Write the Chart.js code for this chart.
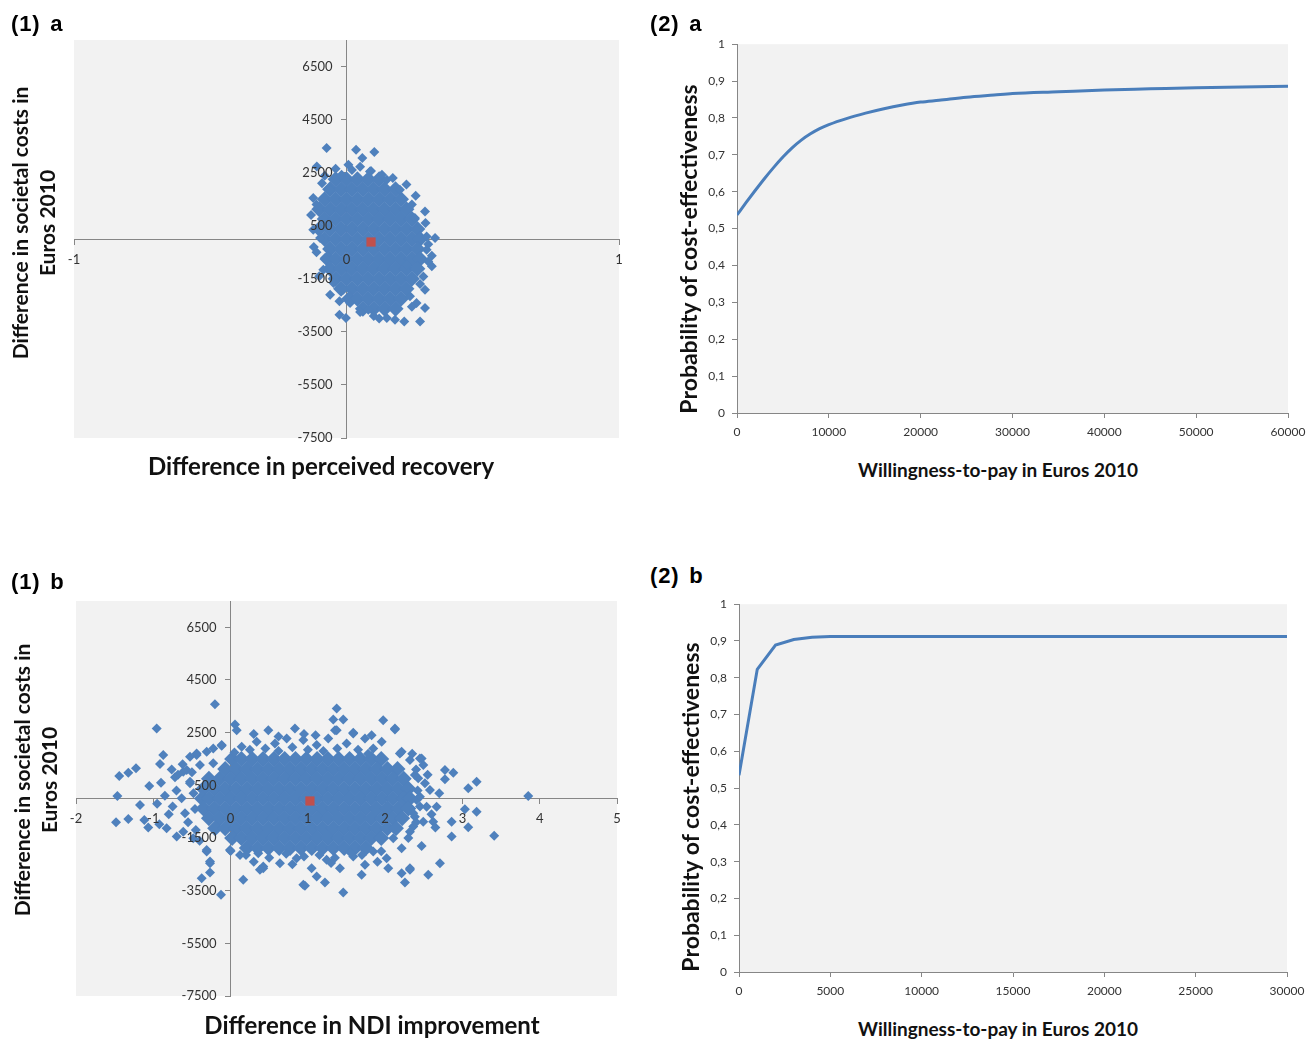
<!DOCTYPE html>
<html>
<head>
<meta charset="utf-8">
<script src="https://cdn.jsdelivr.net/npm/chart.js@4.4.0/dist/chart.umd.min.js"></script>
<style>
body { margin: 0; background: #fff; width: 1313px; height: 1040px; position: relative; overflow: hidden; font-family: Lato, sans-serif; }
canvas { position: absolute; }
.panel { position: absolute; font: bold 22px 'Liberation Sans', Arimo, Arial, sans-serif; letter-spacing: 0.8px; word-spacing: 3px; line-height: 22px; color: #000; }
.title { position: absolute; font-weight: bold; color: #111; white-space: nowrap; text-align: center; transform: translate(-50%, -50%); }
.rot { transform: translate(-50%, -50%) rotate(-90deg); }
</style>
</head>
<body>
<canvas id="recovery" width="620" height="430" style="left:30px;top:25px"></canvas>
<canvas id="ndi" width="620" height="430" style="left:30px;top:585px"></canvas>
<canvas id="acceptA" width="623" height="420" style="left:690px;top:30px"></canvas>
<canvas id="acceptB" width="623" height="420" style="left:690px;top:590px"></canvas>

<div class="panel" style="left:11px;top:13px">(1) a</div>
<div class="panel" style="left:650px;top:13px">(2) a</div>
<div class="panel" style="left:11px;top:571px">(1) b</div>
<div class="panel" style="left:650px;top:565px">(2) b</div>

<div class="title rot" style="left:33px;top:223px;font-size:21px;line-height:27px">Difference in societal costs in<br>Euros 2010</div>
<div class="title" style="left:321px;top:465px;font-size:24px">Difference in perceived recovery</div>
<div class="title rot" style="left:35px;top:780px;font-size:21px;line-height:27px">Difference in societal costs in<br>Euros 2010</div>
<div class="title" style="left:372px;top:1024px;font-size:24px">Difference in NDI improvement</div>
<div class="title rot" style="left:688px;top:249px;font-size:23px">Probability of cost-effectiveness</div>
<div class="title" style="left:998px;top:469px;font-size:19px">Willingness-to-pay in Euros 2010</div>
<div class="title rot" style="left:690px;top:807px;font-size:23px">Probability of cost-effectiveness</div>
<div class="title" style="left:998px;top:1028px;font-size:19px">Willingness-to-pay in Euros 2010</div>

<script>
// tick values
const costTicks = [-7500, -5500, -3500, -1500, 500, 2500, 4500, 6500];
const recoveryTicks = [-1, 0, 1];
const ndiTicks = [-2, -1, 0, 1, 2, 3, 4, 5];
const probTicks = [0, 0.1, 0.2, 0.3, 0.4, 0.5, 0.6, 0.7, 0.8, 0.9, 1];
const probLabels = ['0', '0,1', '0,2', '0,3', '0,4', '0,5', '0,6', '0,7', '0,8', '0,9', '1'];
const wtpTicksA = [0, 10000, 20000, 30000, 40000, 50000, 60000];
const wtpTicksB = [0, 5000, 10000, 15000, 20000, 25000, 30000];

// (1) a  bootstrapped cost / recovery pairs, dense part read row by row [cost, [recovery...]]
const recoveryCore = [
    [2250, [-0.04, 0.00, 0.04, 0.08, 0.12]],
    [1875, [-0.06, -0.02, 0.02, 0.06, 0.10, 0.14, 0.18]],
    [1500, [-0.08, -0.04, 0.00, 0.04, 0.08, 0.12, 0.16, 0.20]],
    [1125, [-0.10, -0.06, -0.02, 0.02, 0.06, 0.10, 0.14, 0.18, 0.22]],
    [750, [-0.08, -0.04, 0.00, 0.04, 0.08, 0.12, 0.16, 0.20, 0.24]],
    [375, [-0.10, -0.06, -0.02, 0.02, 0.06, 0.10, 0.14, 0.18, 0.22, 0.26]],
    [0, [-0.08, -0.04, 0.00, 0.04, 0.08, 0.12, 0.16, 0.20, 0.24, 0.27]],
    [-375, [-0.06, -0.02, 0.02, 0.06, 0.10, 0.14, 0.18, 0.22, 0.26]],
    [-750, [-0.07, -0.04, 0.00, 0.04, 0.08, 0.12, 0.16, 0.20, 0.24, 0.27]],
    [-1125, [-0.06, -0.02, 0.02, 0.06, 0.10, 0.14, 0.18, 0.22, 0.26]],
    [-1500, [-0.04, 0.00, 0.04, 0.08, 0.12, 0.16, 0.20, 0.24]],
    [-1875, [-0.02, 0.02, 0.06, 0.10, 0.14, 0.18, 0.22]],
    [-2250, [0.01, 0.04, 0.08, 0.12, 0.16, 0.20]],
    [-2625, [0.06, 0.10, 0.14, 0.18]]
];
const recoveryOuter = [
    [-0.073, 3430], [0.035, 3366], [0.102, 3280], [0.058, 3053], [0.007, 2800], [-0.109, 2737],
    [-0.018, 2424], [-0.061, 1858], [-0.122, 1545], [0.086, 2548], [0.148, 2235], [0.196, 1858],
    [0.254, 1632], [0.288, 1040], [0.251, 792], [0.294, 98], [0.325, 38], [0.294, -403],
    [0.313, -629], [0.313, -1030], [0.282, -1410], [0.288, -1911], [0.257, -2412], [0.288, -2600],
    [0.270, -3105], [0.212, -3105], [0.178, -3040], [0.148, -2980], [0.080, -2665], [0.013, -2412],
    [-0.026, -2350], [-0.026, -2855], [-0.002, -2980], [-0.079, -716], [-0.097, 38], [-0.122, 350],
    [-0.085, -1157], [-0.048, -1660], [-0.012, -1911], [0.233, -2162], [0.221, -968], [0.257, 350],
    [-0.04, 2650], [0.02, 2600], [0.05, 2720], [0.09, 2560], [0.13, 2420], [0.17, 2300],
    [-0.08, 2380], [-0.11, 1300], [-0.13, 900], [-0.12, -300], [-0.11, -500], [-0.10, -1400],
    [0.29, 600], [0.30, -200], [0.30, -850], [0.27, -1700], [0.24, -2550], [0.10, -2900],
    [0.05, -2750], [0.22, 2050], [0.24, 1300], [-0.09, 2100], [0.12, -3000], [-0.06, -2100]
];
const recoveryMean = [0.09, -113];

// (1) b  bootstrapped cost / NDI pairs
const ndiCore = [
    [1500, [0.02, 0.14, 0.28, 0.42, 0.56, 0.70, 0.84, 0.98, 1.12, 1.26, 1.40, 1.54, 1.68, 1.82, 1.95]],
    [1125, [-0.07, 0.07, 0.21, 0.35, 0.49, 0.63, 0.77, 0.91, 1.05, 1.19, 1.33, 1.47, 1.61, 1.75, 1.89, 2.03, 2.16]],
    [750, [-0.28, -0.14, 0.00, 0.14, 0.28, 0.42, 0.56, 0.70, 0.84, 0.98, 1.12, 1.26, 1.40, 1.54, 1.68, 1.82, 1.96, 2.10, 2.24]],
    [375, [-0.35, -0.21, -0.07, 0.07, 0.21, 0.35, 0.49, 0.63, 0.77, 0.91, 1.05, 1.19, 1.33, 1.47, 1.61, 1.75, 1.89, 2.03, 2.17, 2.30]],
    [0, [-0.37, -0.28, -0.14, 0.00, 0.14, 0.28, 0.42, 0.56, 0.70, 0.84, 0.98, 1.12, 1.26, 1.40, 1.54, 1.68, 1.82, 1.96, 2.10, 2.24, 2.32]],
    [-375, [-0.35, -0.21, -0.07, 0.07, 0.21, 0.35, 0.49, 0.63, 0.77, 0.91, 1.05, 1.19, 1.33, 1.47, 1.61, 1.75, 1.89, 2.03, 2.17, 2.30]],
    [-750, [-0.28, -0.14, 0.00, 0.14, 0.28, 0.42, 0.56, 0.70, 0.84, 0.98, 1.12, 1.26, 1.40, 1.54, 1.68, 1.82, 1.96, 2.10, 2.22]],
    [-1125, [-0.20, -0.07, 0.07, 0.21, 0.35, 0.49, 0.63, 0.77, 0.91, 1.05, 1.19, 1.33, 1.47, 1.61, 1.75, 1.89, 2.03, 2.14]],
    [-1500, [0.02, 0.14, 0.28, 0.42, 0.56, 0.70, 0.84, 0.98, 1.12, 1.26, 1.40, 1.54, 1.68, 1.82, 1.95]],
    [-1875, [0.21, 0.35, 0.49, 0.63, 0.77, 0.91, 1.05, 1.19, 1.33, 1.47, 1.61, 1.75]]
];
const ndiOuter = [
    [-0.202, 3580], [-0.956, 2660], [0.057, 2812], [0.079, 2596], [-1.440, 853], [-1.323, 978],
    [-1.224, 1144], [-1.465, 95], [-1.482, -902], [-1.323, -777], [-1.116, -815], [-1.065, -1106],
    [-0.913, 1307], [-1.052, 474], [-1.172, -246], [-0.922, -978], [-0.827, -1129], [-0.697, -1447],
    [-0.309, -2016], [-0.266, -2456], [-0.266, -2812], [-0.374, -3024], [-0.124, -3657], [0.164, -3088],
    [0.380, -2709], [0.423, -2584], [0.001, -1989], [0.941, -3278], [-0.871, 1648], [-0.525, 1584],
    [-0.439, 1648], [-0.309, 1773], [-0.115, 2027], [-0.762, 1106], [-0.719, 803], [-0.568, 1080],
    [-0.525, 576],
    [1.373, 3418], [1.329, 3001], [1.458, 3001], [1.351, 2596], [1.975, 2975], [2.127, 2622],
    [1.587, 2494], [1.825, 2406], [2.213, 1773], [2.472, 1523], [2.494, 1269], [2.774, 1080],
    [2.882, 978], [2.774, 728], [3.184, 637], [3.075, 387], [3.852, 95], [3.032, -409],
    [3.184, -500], [2.860, -879], [3.075, -1091], [2.860, -1447], [3.411, -1410], [2.472, -1800],
    [2.709, -2456], [2.558, -2899], [2.321, -2709], [2.213, -2835], [2.256, -3190], [2.040, -2645],
    [1.696, -2899], [1.458, -3570], [1.221, -3190], [0.962, -3316], [1.114, -2963], [2.428, 765],
    [2.580, 322], [2.407, -57], [2.666, -311], [2.385, -690], [2.622, -879], [2.364, -1068],
    [-0.439, 1713], [-0.224, 1902], [-0.115, 2000], [0.144, 1963], [0.338, 2153], [0.488, 2596],
    [0.574, 2092], [0.726, 2281], [0.833, 2660], [0.941, 2217], [1.114, 2027], [1.264, 2281],
    [1.373, 2596], [1.502, 2092], [1.587, 2470], [1.739, 2281], [1.846, 1902], [1.955, 2153],
    [2.127, 2660], [2.191, 1713], [2.321, 1459], [2.450, 1523], [2.385, 890], [2.515, 576],
    [2.450, 68], [2.537, -311], [2.364, -561], [2.493, -879], [2.321, -1258], [2.105, -1508],
    [2.213, -1887], [2.321, -2645], [2.019, -2266], [1.846, -2016], [1.739, -2520], [1.587, -2205],
    [1.415, -2645], [1.243, -2330], [1.049, -2645], [0.855, -2266], [0.639, -2456], [0.423, -2645],
    [0.358, -2077], [0.122, -2141], [-0.008, -1952], [-0.266, -2394], [-0.309, -1952], [-0.483, -1508],
    [-0.612, -1258], [-0.590, -561], [-0.633, 8], [-0.525, 637], [-0.612, 1016], [-0.396, 1269],
    [-0.224, 1334],
    [0.25, 1850], [0.45, 1900], [0.62, 1800], [0.80, 1950], [1.00, 1850], [1.20, 1800],
    [1.38, 1900], [1.65, 1850], [1.78, 1700], [0.05, 1750], [0.95, 2450], [0.62, 2350],
    [1.10, 2400], [0.30, 2450], [0.20, -2150], [0.50, -2250], [0.72, -2100], [0.95, -2200],
    [1.15, -2150], [1.35, -2250], [1.55, -2050], [1.70, -2150], [1.95, -2000], [0.30, -2400],
    [0.80, -2500], [1.30, -2450], [1.90, -2400], [-0.70, 300], [-0.75, -300], [-0.85, 100],
    [-0.68, 900], [-0.55, -900], [-0.80, -600], [-0.62, 1300], [-0.95, -200], [-0.45, -1200],
    [-0.50, 1000], [-0.48, 200], [-0.46, -400], [-0.40, -1600], [-0.90, 600], [2.40, 1100],
    [2.42, 300], [2.45, -300], [2.40, -900], [2.30, -1500], [2.55, 900], [2.60, -600],
    [2.70, 200], [2.65, -1100], [2.35, 1700]
];
const ndiMean = [1.027, -95];

// (2) acceptability curves
const wtpA = [0, 1000, 2000, 3000, 4000, 5000, 6000, 7000, 8000, 9000, 10000, 12000, 14000, 16000, 18000, 20000, 22000, 25000, 28000, 30000, 35000, 40000, 45000, 50000, 55000, 60000];
const probA = [0.537, 0.571, 0.604, 0.636, 0.666, 0.694, 0.719, 0.740, 0.757, 0.771, 0.782, 0.799, 0.813, 0.825, 0.835, 0.843, 0.848, 0.856, 0.862, 0.866, 0.871, 0.876, 0.879, 0.882, 0.884, 0.886];
const wtpB = [0, 1000, 2000, 3000, 4000, 5000, 10000, 15000, 20000, 25000, 30000];
const probB = [0.535, 0.823, 0.889, 0.904, 0.910, 0.912, 0.912, 0.912, 0.912, 0.912, 0.912];

const blue = '#4f81bd';
const axisGrey = '#868686';
const labelColor = '#333';

const plotBackground = {
    id: 'plotBackground',
    beforeDraw(chart) {
        const {ctx, chartArea: a} = chart;
        ctx.save();
        ctx.fillStyle = '#f2f2f2';
        ctx.fillRect(a.left, a.top, a.right - a.left, a.bottom - a.top);
        ctx.restore();
    }
};

// a y axis crossing at x = 0 puts its labels right on the line, push them left a bit
const yLabelGap = {
    id: 'yLabelGap',
    beforeDraw(chart) {
        const items = chart.scales.y.getLabelItems();
        if (items.shifted) return;
        items.forEach(item => { item.options.translation[0] -= 14; });
        items.shifted = true;
    }
};

const fixedTicks = (values) => (scale) => {
    scale.ticks = values.map(v => ({value: v}));
};

const scatterChart = (id, core, outer, mean, xMin, xMax, xTicks, padding) => {
    const corePoints = core.flatMap(([y, xs]) => xs.map(x => ({x: x, y: y})));
    const outerPoints = outer.map(([x, y]) => ({x: x, y: y}));
    return new Chart(document.getElementById(id), {
        type: 'scatter',
        data: {
            datasets: [{
                label: 'mean',
                data: [{x: mean[0], y: mean[1]}],
                pointStyle: 'rect',
                pointRadius: 6.5,
                pointBackgroundColor: '#c0504d',
                pointBorderWidth: 0
            }, {
                label: 'outer',
                data: outerPoints,
                pointStyle: 'rectRot',
                pointRadius: 5,
                pointBackgroundColor: blue,
                pointBorderWidth: 0
            }, {
                label: 'core',
                data: corePoints,
                pointStyle: 'rectRot',
                pointRadius: 8,
                pointBackgroundColor: blue,
                pointBorderWidth: 0
            }]
        },
        options: {
            responsive: false,
            animation: false,
            events: [],
            devicePixelRatio: 1,
            layout: {padding: padding},
            plugins: {legend: {display: false}, tooltip: {enabled: false}},
            scales: {
                x: {
                    type: 'linear',
                    min: xMin,
                    max: xMax,
                    position: {y: 0},
                    afterBuildTicks: fixedTicks(xTicks),
                    grid: {drawOnChartArea: false, tickLength: 5, color: axisGrey},
                    border: {color: axisGrey},
                    ticks: {z: 1, padding: 8, color: labelColor, font: {family: 'Lato', size: 13}, autoSkip: false, maxRotation: 0, callback: v => String(v)}
                },
                y: {
                    type: 'linear',
                    min: -7500,
                    max: 7500,
                    position: {x: 0},
                    afterBuildTicks: fixedTicks(costTicks),
                    grid: {drawOnChartArea: false, tickLength: 5, color: axisGrey},
                    border: {color: axisGrey},
                    ticks: {z: 1, color: labelColor, font: {family: 'Lato', size: 13}, autoSkip: false, callback: v => String(v)}
                }
            }
        },
        plugins: [plotBackground, yLabelGap]
    });
};

const acceptChart = (id, wtp, prob, xMax, xTicks, yWidth, xHeight, padding, tension) => {
    return new Chart(document.getElementById(id), {
        type: 'line',
        data: {
            datasets: [{
                label: 'probability',
                data: wtp.map((w, i) => ({x: w, y: prob[i]})),
                borderColor: '#4a7ebb',
                borderWidth: 3,
                pointRadius: 0,
                fill: false,
                tension: tension,
                cubicInterpolationMode: tension ? 'monotone' : 'default'
            }]
        },
        options: {
            responsive: false,
            animation: false,
            events: [],
            devicePixelRatio: 1,
            layout: {padding: padding},
            plugins: {legend: {display: false}, tooltip: {enabled: false}},
            scales: {
                x: {
                    type: 'linear',
                    min: 0,
                    max: xMax,
                    position: 'bottom',
                    afterBuildTicks: fixedTicks(xTicks),
                    afterFit: s => { s.height = xHeight; },
                    grid: {drawOnChartArea: false, tickLength: 5, color: axisGrey},
                    border: {color: axisGrey},
                    ticks: {padding: 7, color: labelColor, font: {family: 'Lato', size: 12}, autoSkip: false, maxRotation: 0, callback: v => String(v)}
                },
                y: {
                    type: 'linear',
                    min: 0,
                    max: 1,
                    position: 'left',
                    afterBuildTicks: fixedTicks(probTicks),
                    afterFit: s => { s.width = yWidth; },
                    grid: {drawOnChartArea: false, tickLength: 5, color: axisGrey},
                    border: {color: axisGrey},
                    ticks: {padding: 7, color: labelColor, font: {family: 'Lato', size: 12}, autoSkip: false, callback: (v, i) => probLabels[i]}
                }
            }
        },
        plugins: [plotBackground]
    });
};

scatterChart('recovery', recoveryCore, recoveryOuter, recoveryMean, -1, 1, recoveryTicks, {left: 44, right: 31, top: 15, bottom: 17});
scatterChart('ndi', ndiCore, ndiOuter, ndiMean, -2, 5, ndiTicks, {left: 46, right: 33, top: 16, bottom: 19});
acceptChart('acceptA', wtpA, probA, 60000, wtpTicksA, 47, 37, {left: 0, right: 25, top: 12, bottom: 0}, 0.4);
acceptChart('acceptB', wtpB, probB, 30000, wtpTicksB, 49, 38, {left: 0, right: 26, top: 12, bottom: 0}, 0);
</script>
</body>
</html>
